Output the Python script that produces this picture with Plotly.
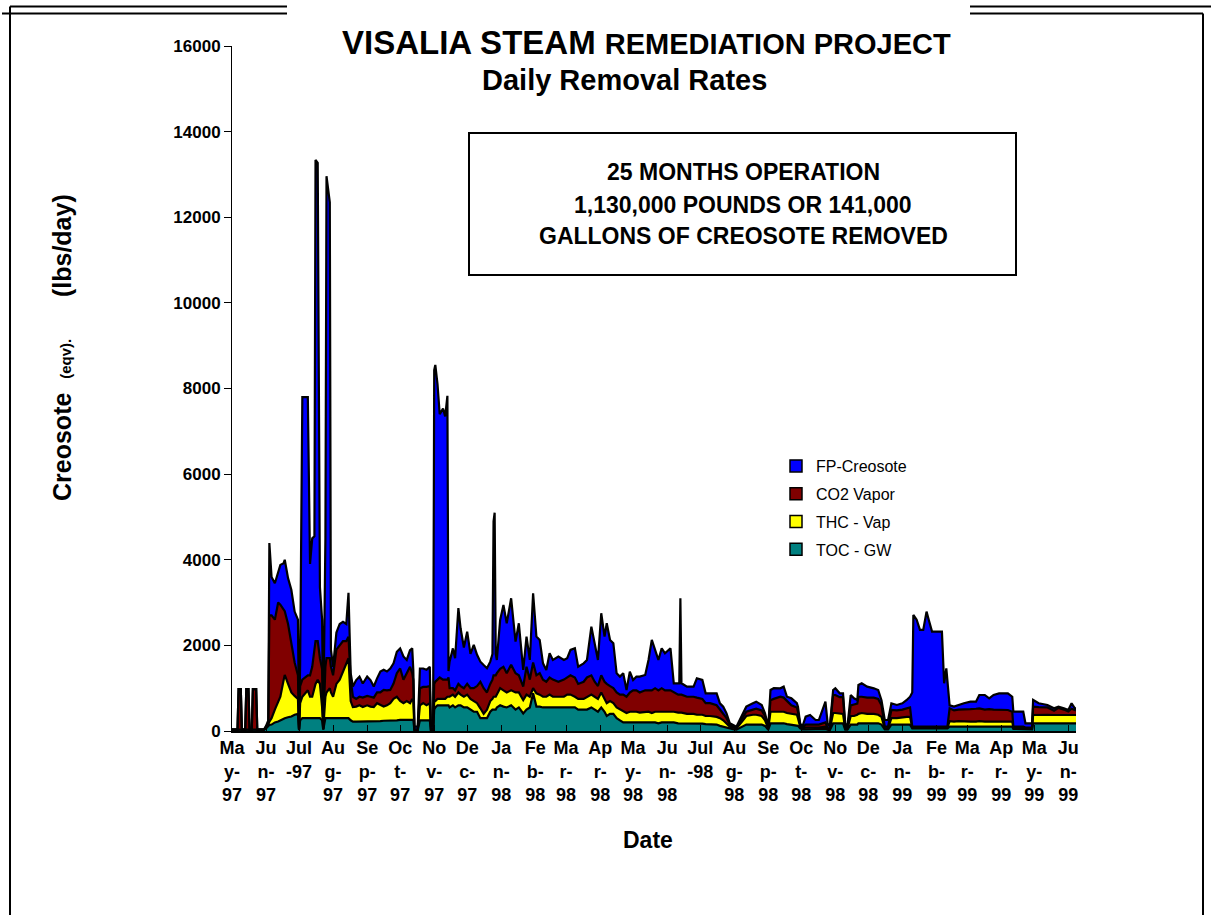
import plotly.graph_objects as go
import pandas as pd

# ---------------- data ----------------
start_date = "1997-05-01"
day = [0, 5, 6, 8, 9, 12, 13, 15, 16, 18, 19, 22, 23, 29, 31, 33,
       34, 36, 39, 42, 44, 47, 48, 51, 54, 57, 60, 61, 62, 64, 69, 71, 73, 75, 76, 78,
       80, 82, 83, 85, 86, 89, 90, 92, 95, 98, 101, 104, 106, 108, 110, 113, 116, 119,
       123, 126, 129, 132, 135, 138, 141, 144, 147, 150, 153, 156, 159, 162, 164, 165,
       166, 169, 171, 174, 177, 180, 181, 183, 184, 185, 187, 189, 192, 194, 196, 197,
       198, 201, 203, 206, 208, 211, 214, 217, 220, 223, 226, 229, 232, 235, 237, 238,
       239, 240, 241, 244, 247, 250, 254, 258, 261, 265, 268, 271, 274, 277, 280, 283,
       286, 289, 292, 297, 302, 305, 308, 312, 315, 320, 323, 327, 330, 333, 336, 339,
       341, 344, 347, 350, 353, 356, 359, 362, 365, 368, 371, 376, 379, 382, 385, 388,
       391, 394, 399, 402, 406, 407, 408, 409, 414, 420, 423, 428, 431, 435, 441, 444,
       447, 450, 453, 456, 459, 465, 468, 474, 477, 482, 485, 488, 490, 493, 499, 502,
       505, 509, 514, 515, 517, 519, 522, 526, 531, 534, 540, 542, 544, 547, 549, 553,
       556, 558, 560, 563, 566, 569, 570, 573, 578, 584, 588, 591, 594, 597, 600, 605,
       610, 614, 617, 619, 620, 623, 626, 629, 632, 634, 637, 646, 648, 650, 651, 653,
       657, 661, 666, 672, 677, 680, 685, 689, 693, 698, 706, 710, 711, 720, 722, 728,
       729, 734, 742, 748, 752, 757, 761, 764, 767, 768]

toc_gw = [30, 30, 30, 30, 30, 30, 30, 30, 30, 30, 30, 30, 30, 30, 60, 100,
          140, 150, 200, 220, 250, 290, 300, 320, 340, 380, 400, 20, 250, 300, 300, 300, 300, 300, 300, 300,
          300, 250, 30, 300, 300, 300, 300, 300, 300, 300, 300, 300, 300, 250, 220, 220, 220, 220,
          220, 220, 220, 230, 230, 240, 240, 240, 250, 250, 260, 260, 260, 260, 260, 260,
          20, 20, 250, 250, 250, 250, 20, 20, 500, 550, 600, 600, 600, 600, 600, 600,
          550, 600, 550, 600, 600, 550, 550, 500, 450, 450, 300, 300, 300, 450, 500, 500,
          500, 500, 550, 600, 570, 550, 600, 500, 550, 410, 500, 550, 880, 570, 570, 550,
          550, 550, 550, 550, 550, 550, 550, 550, 500, 500, 500, 550, 500, 450, 550, 450,
          350, 400, 400, 300, 250, 200, 200, 200, 200, 200, 200, 200, 200, 200, 200, 180,
          200, 200, 200, 200, 180, 180, 180, 180, 180, 180, 170, 170, 160, 160, 150, 120,
          100, 80, 50, 40, 30, 100, 150, 150, 150, 150, 120, 30, 180, 180, 180, 180,
          160, 150, 140, 120, 60, 40, 40, 40, 40, 40, 50, 30, 20, 180, 180, 180,
          180, 30, 30, 150, 150, 150, 180, 180, 180, 180, 180, 150, 40, 40, 150, 150,
          150, 150, 150, 60, 60, 60, 60, 60, 60, 60, 60, 60, 60, 60, 60, 100,
          100, 100, 100, 100, 100, 100, 100, 100, 100, 100, 100, 100, 50, 50, 40, 40,
          180, 180, 180, 180, 180, 180, 180, 180, 180, 180]

thc_vap = [0, 0, 0, 0, 0, 0, 0, 0, 0, 0, 0, 0, 0, 0, 20, 50,
           80, 150, 300, 480, 550, 900, 1010, 780, 560, 440, 350, 10, 400, 500, 650, 500, 500, 700, 800, 900,
           800, 300, 10, 500, 600, 700, 600, 500, 800, 900, 1100, 1300, 1400, 450, 340, 350, 380, 340,
           380, 350, 340, 420, 370, 330, 360, 410, 500, 550, 440, 390, 440, 390, 490, 440,
           10, 10, 350, 400, 350, 400, 10, 10, 200, 150, 150, 150, 150, 150, 200, 200,
           250, 250, 250, 300, 250, 250, 300, 250, 250, 200, 230, 100, 200, 250, 250, 300,
           300, 300, 300, 400, 380, 350, 350, 400, 350, 310, 350, 250, 120, 310, 280, 250,
           250, 300, 250, 250, 250, 300, 300, 250, 250, 250, 300, 300, 300, 300, 350, 300,
           300, 300, 250, 250, 250, 250, 220, 250, 250, 250, 230, 250, 250, 220, 250, 270,
           250, 250, 250, 250, 250, 250, 250, 250, 220, 220, 210, 210, 190, 190, 180, 180,
           150, 100, 50, 40, 30, 150, 200, 230, 230, 200, 130, 30, 270, 270, 272, 270,
           260, 250, 240, 180, 40, 20, 40, 40, 40, 40, 50, 20, 20, 240, 240, 220,
           220, 20, 20, 200, 200, 230, 220, 240, 220, 220, 200, 180, 20, 20, 150, 150,
           170, 180, 180, 20, 20, 20, 20, 20, 20, 20, 20, 20, 20, 20, 20, 130,
           120, 130, 120, 120, 120, 130, 120, 120, 120, 130, 120, 120, 30, 30, 20, 20,
           194, 200, 200, 194, 200, 194, 194, 200, 194, 194]

co2_vapor = [0, 0, 950, 950, 0, 0, 950, 950, 0, 0, 950, 950, 0, 0, 20, 50,
             2480, 2400, 2100, 2300, 2150, 1640, 1490, 1400, 1100, 780, 550, 10, 400, 400, 350, 500, 700, 900, 1000, 900,
             600, 900, 10, 700, 800, 700, 600, 500, 800, 800, 700, 500, 500, 500, 240, 180, 200, 220,
             220, 230, 220, 250, 300, 390, 350, 310, 360, 550, 760, 550, 650, 850, 600, 490,
             10, 10, 400, 380, 430, 400, 10, 10, 400, 450, 450, 500, 450, 450, 400, 450,
             200, 150, 150, 200, 200, 200, 250, 250, 300, 400, 620, 600, 400, 400, 450, 500,
             500, 500, 500, 450, 550, 450, 600, 450, 400, 316, 650, 400, 600, 420, 500, 400,
             350, 400, 400, 350, 400, 400, 450, 450, 350, 400, 450, 450, 350, 300, 400, 400,
             450, 350, 350, 350, 350, 400, 380, 450, 500, 500, 470, 500, 500, 530, 550, 500,
             550, 500, 500, 450, 420, 420, 420, 420, 400, 400, 400, 370, 300, 300, 270, 200,
             170, 120, 50, 20, 20, 100, 100, 120, 140, 130, 100, 20, 270, 300, 348, 330,
             280, 200, 170, 150, 50, 20, 70, 70, 70, 70, 100, 20, 20, 421, 421, 390,
             390, 30, 20, 250, 270, 260, 400, 380, 380, 380, 370, 270, 40, 40, 190, 180,
             180, 190, 220, 20, 20, 20, 20, 20, 20, 20, 20, 20, 20, 20, 20, 300,
             260, 270, 280, 290, 300, 300, 280, 290, 280, 270, 270, 230, 20, 20, 20, 20,
             195, 180, 170, 100, 160, 126, 80, 140, 106, 106]

fp_creosote = [0, 0, 0, 0, 0, 0, 0, 0, 0, 0, 0, 0, 0, 0, 20, 50,
               1690, 900, 850, 720, 930, 1090, 1200, 1070, 1300, 1190, 1300, 10, 500, 6600, 6500, 2600, 3000, 2650, 11240, 11170,
               1660, 1150, 10, 3000, 11260, 10650, 400, 200, 400, 500, 450, 400, 1030, 150, 240, 440, 470, 330,
               450, 390, 260, 330, 490, 470, 440, 500, 470, 500, 470, 540, 310, 390, 580, 230,
               60, 60, 460, 430, 400, 450, 60, 110, 7330, 7400, 6900, 6150, 6330, 6150, 6630, 150,
               620, 930, 750, 1770, 1350, 950, 1220, 800, 1010, 730, 470, 540, 565, 520, 600, 3600,
               3800, 500, 310, 1144, 1445, 1166, 1550, 738, 1216, 389, 705, 460, 1617, 905, 777, 380,
               275, 565, 460, 587, 460, 450, 593, 682, 403, 430, 410, 1138, 900, 610, 1450, 1055,
               1416, 1077, 1050, 448, 420, 498, 158, 487, 242, 320, 370, 359, 709, 1177, 893, 710,
               932, 865, 982, 214, 264, 264, 2250, 264, 236, 236, 451, 442, 230, 230, 280, 147,
               149, 113, 30, 40, 20, 63, 119, 147, 165, 128, 63, 20, 238, 250, 197, 256,
               100, 163, 100, 119, 30, 20, 185, 224, 107, 107, 486, 110, 40, 117, 156, 90,
               90, 100, 30, 241, 143, 84, 275, 314, 256, 217, 208, 120, 157, 157, 157, 128,
               147, 204, 252, 800, 2611, 2500, 2260, 2260, 2689, 2500, 2221, 2221, 1014, 1364, 1100, 70,
               89, 108, 147, 176, 166, 311, 341, 253, 341, 380, 390, 350, 352, 352, 100, 100,
               155, 87, 58, 56, 29, 30, 36, 127, 50, 50]

series_names = ["TOC - GW", "THC - Vap", "CO2 Vapor", "FP-Creosote"]
series_colors = ["#008080", "#FFFF00", "#800000", "#0000FF"]

tick_labels = ["Ma<br>y-<br>97", "Ju<br>n-<br>97", "Jul<br>-97", "Au<br>g-<br>97", "Se<br>p-<br>97",
               "Oc<br>t-<br>97", "No<br>v-<br>97", "De<br>c-<br>97", "Ja<br>n-<br>98", "Fe<br>b-<br>98",
               "Ma<br>r-<br>98", "Ap<br>r-<br>98", "Ma<br>y-<br>98", "Ju<br>n-<br>98", "Jul<br>-98",
               "Au<br>g-<br>98", "Se<br>p-<br>98", "Oc<br>t-<br>98", "No<br>v-<br>98", "De<br>c-<br>98",
               "Ja<br>n-<br>99", "Fe<br>b-<br>99", "Ma<br>r-<br>99", "Ap<br>r-<br>99", "Ma<br>y-<br>99",
               "Ju<br>n-<br>99"]

# ---------------- figure ----------------
W, H = 1212, 915
L, R, T, B = 232, 1076, 46, 731  # plot area in pixels


def px_x(px):
    return (px - L) / (R - L)


def px_y(py):
    return (B - py) / (B - T)


dates = pd.Timestamp(start_date) + pd.to_timedelta(day, unit="D")
tick_dates = pd.date_range(start_date, periods=len(tick_labels), freq="MS")

FONT = "Liberation Sans, Arial, sans-serif"

fig = go.Figure()
for name, vals, col in zip(series_names, [toc_gw, thc_vap, co2_vapor, fp_creosote], series_colors):
    fig.add_trace(go.Scatter(
        x=dates, y=vals, mode="lines", stackgroup="one", name=name,
        line=dict(color="black", width=2.2), fillcolor=col,
        showlegend=False, hoverinfo="skip"))

# legend entries (top to bottom)
for name, col in reversed(list(zip(series_names, series_colors))):
    fig.add_trace(go.Scatter(
        x=[None], y=[None], mode="markers", name=name, legendgroup=name,
        marker=dict(symbol="square", size=12, color=col, line=dict(color="black", width=1.5))))

fig.update_layout(
    width=W, height=H,
    margin=dict(l=L, r=W - R, t=T, b=H - B, pad=0),
    paper_bgcolor="white", plot_bgcolor="white",
    font=dict(family=FONT, color="black"),
    showlegend=True,
    legend=dict(x=px_x(776), y=px_y(449), xanchor="left", yanchor="top",
                font=dict(family=FONT, size=16, color="black"),
                tracegroupgap=4, bgcolor="rgba(0,0,0,0)", itemclick=False),
    xaxis=dict(
        range=[pd.Timestamp(start_date), pd.Timestamp(start_date) + pd.Timedelta(days=768)],
        tickmode="array", tickvals=tick_dates, ticktext=tick_labels,
        ticks="inside", ticklen=6, tickcolor="black", tickwidth=1,
        showline=True, linecolor="black", linewidth=1.5,
        showgrid=False, zeroline=False,
        tickfont=dict(family=FONT, size=18, color="black", weight="bold"),
        tickangle=0),
    yaxis=dict(
        range=[0, 16000], tickmode="linear", tick0=0, dtick=2000, tickformat="d",
        ticks="outside", ticklen=7, tickcolor="black", tickwidth=1,
        showline=True, linecolor="black", linewidth=1,
        showgrid=False, zeroline=False,
        tickfont=dict(family=FONT, size=17, color="black", weight="bold")),
)

annos = [
    dict(x=px_x(646), y=px_y(42),
         text="<b>VISALIA STEAM </b><b><span style='font-size:29px'>REMEDIATION PROJECT</span></b>",
         font=dict(size=33)),
    dict(x=px_x(624), y=px_y(80), text="<b>Daily Removal Rates</b>", font=dict(size=29)),
    dict(x=px_x(743), y=px_y(172), text="<b>25 MONTHS OPERATION</b>", font=dict(size=23)),
    dict(x=px_x(743), y=px_y(205), text="<b>1,130,000 POUNDS OR 141,000</b>", font=dict(size=23)),
    dict(x=px_x(743), y=px_y(236), text="<b>GALLONS OF CREOSOTE REMOVED</b>", font=dict(size=23)),
    dict(x=px_x(648), y=px_y(840), text="<b>Date</b>", font=dict(size=23)),
    dict(x=px_x(62), y=px_y(348), textangle=-90,
         text="<b>Creosote\u00a0\u00a0<span style='font-size:15px'>(eqv).</span>"
              "\u00a0\u00a0\u00a0\u00a0\u00a0\u00a0(lbs/day)</b>",
         font=dict(size=25)),
]
for a in annos:
    fig.add_annotation(xref="paper", yref="paper", showarrow=False,
                       xanchor="center", yanchor="middle",
                       font=dict(family=FONT, color="black", size=a["font"]["size"]),
                       text=a["text"], x=a["x"], y=a["y"], textangle=a.get("textangle", 0))

line = dict(color="black", width=2)
shapes = [
    dict(type="rect", x0=px_x(469), x1=px_x(1016), y0=px_y(133), y1=px_y(275), line=line),
    dict(type="line", x0=px_x(10), x1=px_x(287), y0=px_y(6.5), y1=px_y(6.5), line=line),
    dict(type="line", x0=px_x(2), x1=px_x(287), y0=px_y(13.5), y1=px_y(13.5), line=line),
    dict(type="line", x0=px_x(970), x1=px_x(1211), y0=px_y(6.5), y1=px_y(6.5), line=line),
    dict(type="line", x0=px_x(970), x1=px_x(1203), y0=px_y(13.5), y1=px_y(13.5), line=line),
    dict(type="line", x0=px_x(10), x1=px_x(10), y0=px_y(6.5), y1=px_y(915), line=line),
    dict(type="line", x0=px_x(1203), x1=px_x(1203), y0=px_y(13.5), y1=px_y(915), line=line),
]
for s in shapes:
    fig.add_shape(xref="paper", yref="paper", **s)

fig.write_html("out.html", config={"displayModeBar": False},
               post_script="document.body.style.margin='0px';")
